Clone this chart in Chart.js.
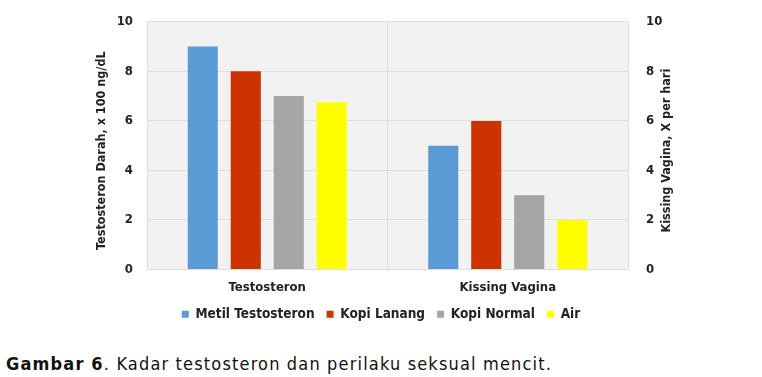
<!DOCTYPE html>
<html>
<head>
<meta charset="utf-8">
<script src="https://cdn.jsdelivr.net/npm/chart.js@4"></script>
<style>
html,body{margin:0;padding:0;background:#fff;}
#wrap{position:relative;width:762px;height:377px;overflow:hidden;}
#c{position:absolute;left:0;top:0;}
#cap{position:absolute;left:6px;top:353px;font-family:"DejaVu Sans Condensed","DejaVu Sans",sans-serif;font-size:18px;line-height:22px;color:#111;white-space:nowrap;}
</style>
</head>
<body>
<div id="wrap">
<canvas id="c" width="762" height="331"></canvas>
<div id="cap"><b>Gambar 6</b>. Kadar testosteron dan perilaku seksual mencit.</div>
</div>
<script>
const categories = ["Testosteron", "Kissing Vagina"];
const seriesNames = ["Metil Testosteron", "Kopi Lanang", "Kopi Normal", "Air"];
const metilTestosteron = [9, 5];
const kopiLanang = [8, 6];
const kopiNormal = [7, 3];
const air = [6.75, 2];
const yTicks = [0, 2, 4, 6, 8, 10];
const leftTitle = "Testosteron Darah, x 100 ng/dL";
const rightTitle = "Kissing Vagina, X per hari";
const colors = ["#5b9bd5", "#cc3300", "#a5a5a5", "#ffff00"];

const font = "'DejaVu Sans Condensed','Liberation Sans Narrow',sans-serif";

// fit caption width
(function(){
  const cap = document.getElementById('cap');
  const target = 546;
  const w = cap.getBoundingClientRect().width;
  const n = cap.textContent.length;
  cap.style.letterSpacing = ((target - w) / n) + 'px';
})();

const bgPlugin = {
  id: 'bg',
  beforeDraw(chart) {
    const a = chart.chartArea, ctx = chart.ctx;
    ctx.save();
    ctx.fillStyle = '#f2f2f2';
    ctx.fillRect(a.left, a.top, a.right - a.left, a.bottom - a.top);
    ctx.restore();
  },
  afterDraw(chart) {
    const ctx = chart.ctx, a = chart.chartArea;
    const cy = (a.top + a.bottom) / 2 + 5;
    ctx.save();
    ctx.fillStyle = '#222';
    ctx.font = "bold 12.5px " + font;
    ctx.textAlign = 'center';
    ctx.textBaseline = 'middle';
    ctx.translate(a.left - 45, cy);
    ctx.rotate(-Math.PI / 2);
    ctx.fillText(leftTitle, 0, 0);
    ctx.restore();
    ctx.save();
    ctx.fillStyle = '#222';
    ctx.font = "bold 12.5px " + font;
    ctx.textAlign = 'center';
    ctx.textBaseline = 'middle';
    ctx.translate(a.right + 39, cy);
    ctx.rotate(-Math.PI / 2);
    ctx.fillText(rightTitle, 0, 0);
    ctx.restore();
  }
};

const values = [metilTestosteron, kopiLanang, kopiNormal, air];
new Chart(document.getElementById('c'), {
  type: 'bar',
  data: {
    labels: categories,
    datasets: seriesNames.map((n, i) => ({
      label: n,
      data: values[i],
      backgroundColor: colors[i],
      borderWidth: 0,
      categoryPercentage: 0.715,
      barPercentage: 0.70,
      yAxisID: 'y'
    }))
  },
  options: {
    responsive: false,
    animation: false,
    layout: {padding: {top: 12, left: 0, right: 0, bottom: 0}},
    plugins: {
      legend: {
        position: 'bottom',
        labels: {
          boxWidth: 7, boxHeight: 7, padding: 12,
          color: '#222',
          font: {family: font, size: 13.5, weight: 'bold'}
        }
      },
      tooltip: {enabled: false}
    },
    scales: {
      x: {
        grid: {color: '#dedede', offset: true, drawTicks: false},
        border: {display: false},
        ticks: {color: '#222', padding: 10, font: {family: font, size: 13, weight: 'bold'}},
        afterFit(s) { s.height = 26; }
      },
      y: {
        position: 'left',
        min: 0, max: 10,
        afterBuildTicks(s) { s.ticks = yTicks.map(v => ({value: v})); },
        grid: {color: '#dedede', drawTicks: false},
        border: {display: false},
        ticks: {color: '#222', padding: 14, font: {family: font, size: 13, weight: 'bold'}},
        afterFit(s) { s.width = 147; }
      },
      y2: {
        position: 'right',
        min: 0, max: 10,
        afterBuildTicks(s) { s.ticks = yTicks.map(v => ({value: v})); },
        grid: {display: false},
        border: {display: false},
        ticks: {color: '#222', padding: 10, font: {family: font, size: 13, weight: 'bold'}},
        afterFit(s) { s.width = 134; }
      }
    }
  },
  plugins: [bgPlugin]
});
</script>
</body>
</html>
